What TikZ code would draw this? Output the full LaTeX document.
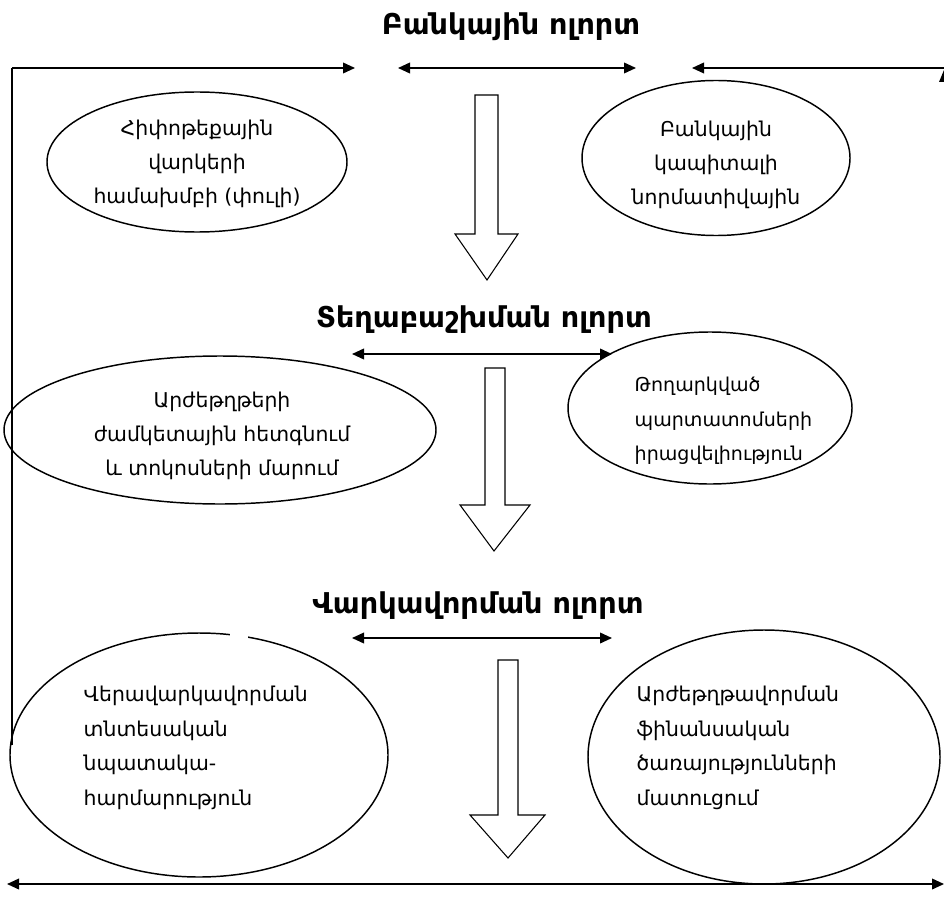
\documentclass[tikz,border=0pt]{standalone}
\usepackage{fontspec}
\setmainfont{DejaVu Sans}
\usetikzlibrary{arrows.meta,shapes.geometric}
\begin{document}
\begin{tikzpicture}[x=0.75pt,y=-0.75pt,
  ell/.style={draw,line width=1.1pt,ellipse,inner sep=0pt},
  body/.style={font=\fontsize{15.3}{25.5}\selectfont,align=center},
  bodyl/.style={font=\fontsize{15.3}{26}\selectfont,align=left},
  ttl/.style={font=\fontsize{21.5}{24}\selectfont\bfseries},
  conn/.style={line width=1.2pt,-{Triangle[length=9pt,width=8pt]}},
  dconn/.style={line width=1.2pt,{Triangle[length=9pt,width=8pt]}-{Triangle[length=9pt,width=8pt]}},
  hollow/.style={draw,line width=0.8pt,fill=white}]
\useasboundingbox (0,0) rectangle (944,909);
% titles
\node[ttl] (t1) at (511,27) {Բանկային ոլորտ};
\node[ttl] (t2) at (484,320) {Տեղաբաշխման ոլորտ};
\node[ttl] (t3) at (478,606) {Վարկավորման ոլորտ};
% ellipses
\node[ell,minimum width=0.75*300pt,minimum height=0.75*140pt] (e1l) at (197,162) {};
\node[ell,minimum width=0.75*268pt,minimum height=0.75*155pt] (e1r) at (716,158) {};
\node[ell,minimum width=0.75*432pt,minimum height=0.75*148pt] (e2l) at (220,430) {};
\node[ell,minimum width=0.75*284pt,minimum height=0.75*152pt] (e2r) at (710,408) {};
\node[ell,minimum width=0.75*378pt,minimum height=0.75*244pt] (e3l) at (199,755) {};
\node[ell,minimum width=0.75*352pt,minimum height=0.75*254pt] (e3r) at (764,757) {};
% gap in lower-left ellipse
\fill[white] (230,628) rectangle (248,640);
% texts
\node[body] (x1l) at (197,164) {Հիփոթեքային\\վարկերի\\համախմբի (փուլի)};
\node[body] (x1r) at (716,165) {Բանկային\\կապիտալի\\նորմատիվային};
\node[body] (x2l) at (222,436) {Արժեթղթերի\\ժամկետային հետգնում\\և տոկոսների մարում};
\node[bodyl,anchor=west,font=\fontsize{14.3}{26}\selectfont] (x2r) at (630,421) {Թողարկված\\պարտատոմսերի\\իրացվելիություն};
\node[bodyl,anchor=west] (x3l) at (79,748) {Վերավարկավորման\\տնտեսական\\նպատակա-\\հարմարություն};
\node[bodyl,anchor=west] (x3r) at (632,748) {Արժեթղթավորման\\ֆինանսական\\ծառայությունների\\մատուցում};
% hollow arrows
\draw[hollow] (475,95) -- (498,95) -- (498,234) -- (518,234) -- (487,280) -- (455,234) -- (475,234) -- cycle;
\draw[hollow] (485,368) -- (505,368) -- (505,505) -- (530,505) -- (494,551) -- (460,505) -- (485,505) -- cycle;
\draw[hollow] (498,660) -- (518,660) -- (518,815) -- (545,815) -- (508,858) -- (470,815) -- (498,815) -- cycle;
% frame lines
\coordinate (lt) at (12,68);
\coordinate (lb) at (12,745);
\coordinate (a1) at (355,68);
\coordinate (d1a) at (398,68);
\coordinate (d1b) at (636,68);
\coordinate (rt) at (944,68);
\coordinate (r1) at (692,68);
\draw[line width=1.2pt] (lb) -- (lt);
\draw[conn] (lt) -- (a1);
\draw[dconn] (d1a) -- (d1b);
\draw[conn] (rt) -- (r1);
\fill (944,70) -- (949,82) -- (939,82) -- cycle;
\coordinate (d2a) at (352,354);
\coordinate (d2b) at (612,354);
\draw[dconn] (d2a) -- (d2b);
\coordinate (d3a) at (352,638);
\coordinate (d3b) at (612,638);
\draw[dconn] (d3a) -- (d3b);
\coordinate (ba) at (7,884);
\coordinate (bb) at (944,884);
\draw[dconn] (ba) -- (bb);
\end{tikzpicture}
\end{document}
